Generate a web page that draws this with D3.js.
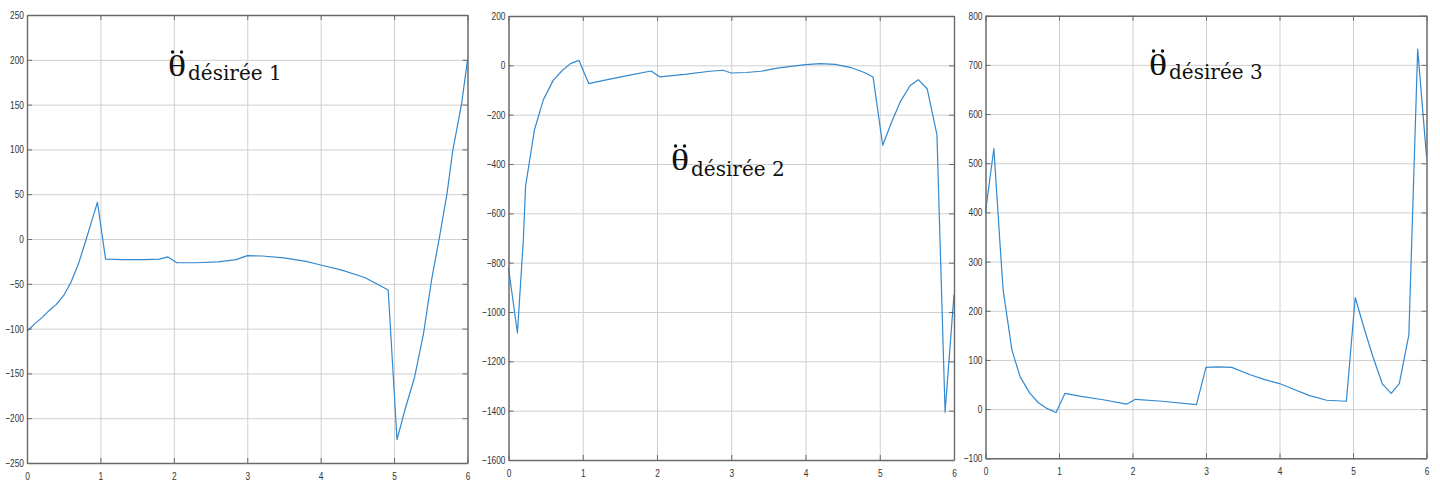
<!DOCTYPE html>
<html><head><meta charset="utf-8">
<script src="https://cdn.jsdelivr.net/npm/d3@7/dist/d3.min.js"></script>
<style>body{margin:0;background:#fff} svg{display:block}</style>
</head><body><svg id="c" width="1440" height="484"></svg>
<script>
// ---- data ----
const xTicks = [0,1,2,3,4,5,6];

const t1 = [0,0.1,0.2,0.3,0.4,0.5,0.6,0.7,0.8,0.9,0.96,1.07,1.3,1.6,1.8,1.92,2.04,2.3,2.6,2.85,3.0,3.2,3.5,3.8,4.0,4.3,4.6,4.92,5.04,5.15,5.28,5.40,5.51,5.62,5.72,5.80,5.92,6.0];
const v1 = [-103,-95,-88,-80,-73,-63,-48,-28,-2,25,41,-22.5,-23,-23,-22.5,-20,-26.5,-26.5,-25.5,-23,-18.5,-19,-21,-25,-29,-35,-43,-57,-224,-190,-154,-106,-46,3,50,99,151,200];
const yTicks1 = [-250,-200,-150,-100,-50,0,50,100,150,200,250];

const t2 = [0,0.12,0.2,0.23,0.35,0.47,0.6,0.72,0.84,0.95,1.08,1.3,1.6,1.92,2.04,2.4,2.71,2.89,3.0,3.2,3.4,3.6,3.8,4.0,4.2,4.4,4.6,4.8,4.91,5.04,5.16,5.28,5.41,5.52,5.64,5.77,5.88,6.0];
const v2 = [-821,-1085,-707,-490,-261,-139,-62,-22,8,20,-74,-60,-42,-23,-47,-36,-24,-20,-31,-29,-24,-12,-4,3,7,4,-8,-30,-47,-324,-230,-146,-82,-58,-96,-281,-1406,-929];
const yTicks2 = [-1600,-1400,-1200,-1000,-800,-600,-400,-200,0,200];

const t3 = [0,0.114,0.2,0.24,0.36,0.47,0.6,0.72,0.84,0.96,1.08,1.3,1.6,1.92,2.04,2.4,2.87,3.0,3.15,3.35,3.6,3.8,4.0,4.2,4.4,4.64,4.91,5.03,5.15,5.27,5.40,5.52,5.63,5.76,5.88,6.0];
const v3 = [401,530,330,242,120,66,33,13,1,-7,32,26,19,10,20,16,9,85,86,85,70,60,52,40,28,18,16,227,165,107,51,32,52,151,732,514];
const yTicks3 = [-100,0,100,200,300,400,500,600,700,800];

const titleSubs = ["désirée 1","désirée 2","désirée 3"];

// ---- layout ----
const panels = [
  {t:t1, v:v1, yt:yTicks1, l:27,   r:467.5, top:15,   b:463,  tx:168,  ty:76,  sdy:4},
  {t:t2, v:v2, yt:yTicks2, l:508.5,r:954,   top:16,   b:460,  tx:671,  ty:170, sdy:6},
  {t:t3, v:v3, yt:yTicks3, l:985.5,r:1426.5,top:15.7, b:458.3,tx:1149, ty:75,  sdy:4}
];

const svg = d3.select("#c");
const labelFont = "'Liberation Sans','Arial',sans-serif";

panels.forEach((p,i)=>{
  const x = d3.scaleLinear().domain([0,6]).range([p.l,p.r]);
  const y = d3.scaleLinear().domain([p.yt[0], p.yt[p.yt.length-1]]).range([p.b,p.top]);
  const g = svg.append("g");
  const w = p.r-p.l, h = p.b-p.top;

  // grid
  g.append("g").attr("transform",`translate(0,${p.b})`)
    .call(d3.axisBottom(x).tickValues(xTicks).tickSize(-h).tickFormat(""))
    .call(s=>{s.select(".domain").remove(); s.selectAll("line").attr("stroke","#d0d0d0").attr("stroke-width",1);});
  g.append("g").attr("transform",`translate(${p.l},0)`)
    .call(d3.axisLeft(y).tickValues(p.yt).tickSize(-w).tickFormat(""))
    .call(s=>{s.select(".domain").remove(); s.selectAll("line").attr("stroke","#d0d0d0").attr("stroke-width",1);});

  // line
  const data = p.t.map((tt,k)=>[tt,p.v[k]]);
  g.append("path").datum(data)
    .attr("fill","none").attr("stroke","#3289d0").attr("stroke-width",1.2)
    .attr("stroke-linejoin","round")
    .attr("d", d3.line().x(d=>x(d[0])).y(d=>y(d[1])));

  // axes (inward ticks)
  const styleAxis = s=>{
    s.select(".domain").attr("stroke","#6a6a6a").attr("stroke-width",1.4);
    s.selectAll(".tick line").attr("stroke","#6a6a6a").attr("stroke-width",1);
    s.selectAll("text").attr("fill","#333").style("font-family",labelFont).style("font-size","11px")
      .attr("transform","scale(0.76,1)");
  };
  g.append("g").attr("transform",`translate(0,${p.b})`)
    .call(d3.axisBottom(x).tickValues(xTicks).tickSize(-5).tickSizeOuter(0).tickPadding(9).tickFormat(d3.format("d")))
    .call(styleAxis);
  g.append("g").attr("transform",`translate(0,${p.top})`)
    .call(d3.axisTop(x).tickValues(xTicks).tickSize(-5).tickSizeOuter(0).tickFormat(""))
    .call(styleAxis);
  g.append("g").attr("transform",`translate(${p.l},0)`)
    .call(d3.axisLeft(y).tickValues(p.yt).tickSize(-5).tickSizeOuter(0).tickPadding(4).tickFormat(d3.format("d")))
    .call(styleAxis);
  g.append("g").attr("transform",`translate(${p.r},0)`)
    .call(d3.axisRight(y).tickValues(p.yt).tickSize(-5).tickSizeOuter(0).tickFormat(""))
    .call(styleAxis);

  // title: wide theta (text) with a double-dot accent, then the subscript
  const sx = 1.3;
  const th = g.append("text").attr("transform",`translate(${p.tx},${p.ty}) scale(${sx},1)`)
    .attr("fill","#111").style("font-family","'Liberation Serif','DejaVu Serif',serif")
    .style("font-size","29px").text("\u03B8");
  const thW = th.node().getComputedTextLength()*sx;
  g.append("text").attr("x",p.tx+thW+2).attr("y",p.ty+p.sdy).attr("fill","#111")
    .style("font-family","'DejaVu Serif','Liberation Serif',serif").style("font-size","20px").text(titleSubs[i]);
  [-4.5,4.5].forEach(dx=>{
    g.append("circle").attr("cx",p.tx+thW/2+dx).attr("cy",p.ty-24).attr("r",1.7).attr("fill","#111");
  });
});
</script></body></html>
